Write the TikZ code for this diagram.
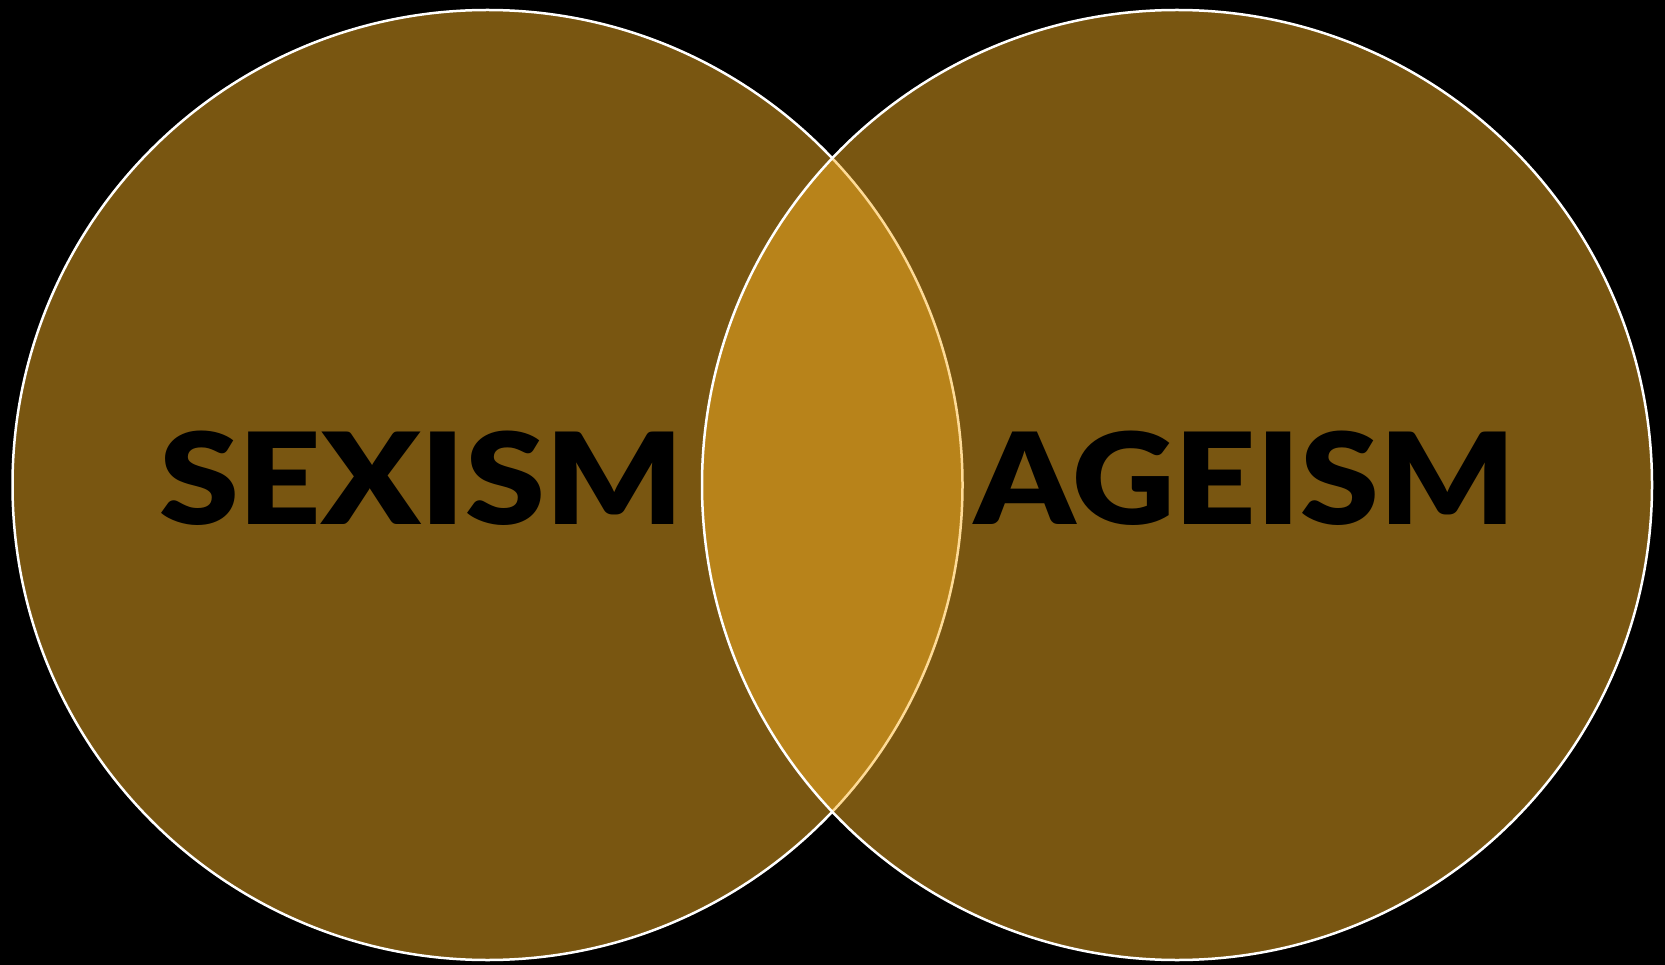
\documentclass[tikz,border=0pt]{standalone}
\usepackage{fontspec}
\setmainfont{Lato}
\newfontfamily\heavyfont{Lato}[UprightFont={* Black}]
\definecolor{gold}{RGB}{254,181,37}
\begin{document}
\begin{tikzpicture}[x=1pt,y=-1pt,
  setcircle/.style={circle, minimum size=950pt, inner sep=0pt, fill=gold, fill opacity=0.48, draw=white, line width=2.5pt},
  word/.style={anchor=base, inner sep=0pt, font=\heavyfont\fontsize{127}{127}\selectfont, text=black}]
\fill[black] (0,0) rectangle (1665,965);
\useasboundingbox (0,0) rectangle (1665,965);
\node[setcircle] (sex) at (487.5,485) {};
\node[setcircle] (age) at (1177,485) {};
\node[word, xscale=1.135] (tsex) at (421.5,524) {SEXISM};
\node[word, xscale=1.12] (tage) at (1245,524) {AGEISM};
\end{tikzpicture}
\end{document}
